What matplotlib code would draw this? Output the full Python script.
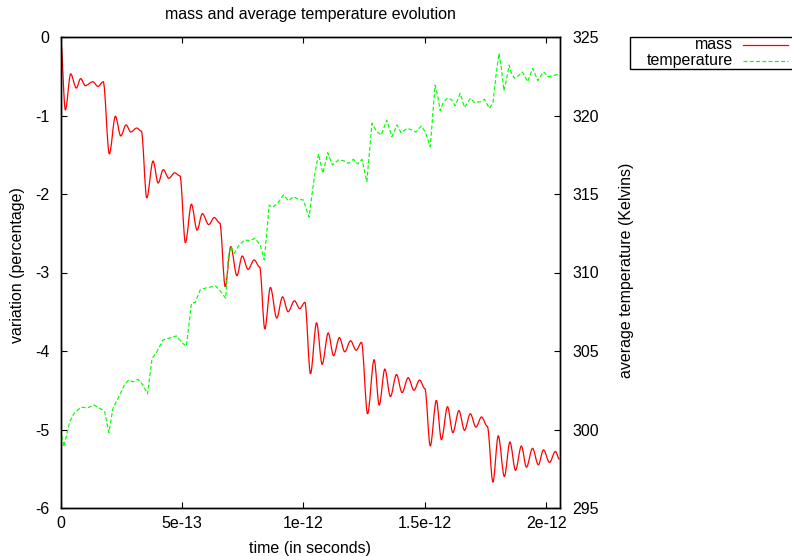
"""
mass and average temperature evolution, gnuplot-like look
"""
import numpy as np
import matplotlib
matplotlib.use('Agg')
import matplotlib.pyplot as plt
from matplotlib.path import Path
from matplotlib.patches import PathPatch, Rectangle
from matplotlib.lines import Line2D

## mass variation (percent), time in units of 1e-13 s
t_mass = [0, 0.20, 0.42, 0.65, 0.83, 1.02, 1.33, 1.54, 1.76, 2.01, 2.26, 2.48, 2.70, 2.89,
          3.14, 3.33, 3.55, 3.81, 4.02, 4.23, 4.46, 4.70, 4.92, 5.14, 5.39, 5.62, 5.84,
          6.10, 6.33, 6.56, 6.78, 7.01, 7.26, 7.48, 7.72, 7.97, 8.20, 8.41, 8.64, 8.90,
          9.14, 9.37, 9.63, 9.85, 10.06, 10.29, 10.54, 10.77, 11.02, 11.24, 11.48, 11.70,
          11.94, 12.17, 12.39, 12.64, 12.91, 13.12, 13.35, 13.58, 13.83, 14.06, 14.31,
          14.55, 14.78, 15.00, 15.22, 15.47, 15.68, 15.93, 16.15, 16.40, 16.63, 16.87,
          17.10, 17.33, 17.57, 17.80, 18.02, 18.27, 18.50, 18.73, 18.97, 19.18, 19.43,
          19.67, 19.88, 20.13, 20.37, 20.54]
mass = [0, -0.93, -0.47, -0.65, -0.53, -0.62, -0.57, -0.63, -0.57, -1.49, -1.01, -1.26,
        -1.12, -1.21, -1.16, -1.20, -2.05, -1.58, -1.86, -1.69, -1.80, -1.73, -1.77, -2.62,
        -2.13, -2.46, -2.25, -2.39, -2.30, -2.37, -3.18, -2.67, -3.04, -2.79, -2.96, -2.84,
        -2.93, -3.72, -3.19, -3.58, -3.31, -3.50, -3.36, -3.46, -3.38, -4.29, -3.64, -4.17,
        -3.77, -4.06, -3.83, -4.01, -3.87, -3.99, -3.89, -4.80, -4.11, -4.69, -4.23, -4.58,
        -4.30, -4.53, -4.34, -4.50, -4.37, -4.48, -5.21, -4.63, -5.13, -4.71, -5.04, -4.76,
        -5.01, -4.80, -4.97, -4.84, -4.96, -5.67, -5.08, -5.60, -5.16, -5.52, -5.21, -5.48,
        -5.24, -5.45, -5.26, -5.42, -5.28, -5.38]

## average temperature (K), time in units of 1e-13 s
t_temp = [0, 0.14, 0.38, 0.56, 0.83, 1.13, 1.38, 1.68, 1.82, 1.99, 2.16, 2.44, 2.64, 2.81,
          2.99, 3.19, 3.40, 3.58, 3.77, 3.95, 4.22, 4.43, 4.77, 5.00, 5.18, 5.39, 5.55,
          5.75, 6.02, 6.39, 6.57, 6.80, 6.91, 7.02, 7.16, 7.30, 7.57, 7.80, 8.01, 8.22,
          8.39, 8.59, 8.72, 8.94, 9.18, 9.38, 9.59, 9.79, 10.00, 10.23, 10.45, 10.62,
          10.80, 11.00, 11.19, 11.44, 11.65, 11.85, 12.06, 12.24, 12.41, 12.61, 12.82,
          13.02, 13.20, 13.43, 13.64, 13.85, 14.02, 14.26, 14.46, 14.63, 14.85, 15.01,
          15.22, 15.42, 15.53, 15.63, 15.74, 15.91, 16.08, 16.25, 16.45, 16.63, 16.87,
          17.04, 17.28, 17.45, 17.65, 17.80, 17.92, 18.05, 18.14, 18.25, 18.34, 18.47,
          18.56, 18.69, 18.88, 19.02, 19.23, 19.43, 19.65, 19.88, 20.07, 20.26, 20.44, 20.57]
temp = [300.0, 298.9, 300.5, 301.03, 301.41, 301.39, 301.56, 301.29, 301.13, 299.8, 301.35,
        302.2, 302.88, 303.15, 303.04, 303.2, 302.83, 302.26, 304.53, 304.9, 305.7, 305.8,
        305.96, 305.53, 305.3, 308.04, 308.1, 308.9, 309.03, 309.14, 308.84, 308.36, 311.0,
        311.64, 311.22, 311.64, 312.07, 312.03, 312.18, 311.75, 310.8, 314.3, 314.15, 314.41,
        314.94, 314.57, 314.83, 314.66, 314.62, 313.52, 316.1, 317.55, 316.32, 317.63,
        316.85, 317.17, 317.12, 316.95, 317.21, 316.91, 317.21, 315.78, 319.50, 318.97,
        318.76, 319.71, 318.65, 319.4, 318.90, 319.18, 319.08, 318.95, 319.33, 318.97,
        318.01, 321.94, 321.20, 320.31, 320.78, 321.09, 321.03, 320.62, 321.41, 320.52,
        321.09, 320.82, 320.88, 321.03, 320.46, 320.78, 322.47, 323.96, 323.11, 321.58,
        322.15, 323.22, 322.69, 322.37, 322.58, 322.77, 322.15, 323.0, 322.22, 322.79,
        322.47, 322.52, 322.62, 322.6]

xticks = [0, 5e-13, 1e-12, 1.5e-12, 2e-12]
xtick_labels = ['0', '5e-13', '1e-12', '1.5e-12', '2e-12']
yticks_left = [-6, -5, -4, -3, -2, -1, 0]
yticks_right = [295, 300, 305, 310, 315, 320, 325]

plt.rcParams['font.family'] = ['Liberation Sans', 'DejaVu Sans']
plt.rcParams['font.size'] = 11.5
plt.rcParams['axes.unicode_minus'] = False

W, H = 792, 556
fig = plt.figure(figsize=(W / 100, H / 100), dpi=100)
ax = fig.add_axes([60.5 / W, 1 - 508 / H, (559.5 - 60.5) / W, (508 - 37) / H])
ax2 = ax.twinx()

## smooth red curve: cubic segments with flat tangents at the read points
tm = np.array(t_mass) * 1e-13
mm = np.array(mass)
verts = [(tm[0], mm[0])]
codes = [Path.MOVETO]
for i in range(len(tm) - 1):
    dx = (tm[i + 1] - tm[i]) / 3
    verts += [(tm[i] + dx, mm[i]), (tm[i + 1] - dx, mm[i + 1]), (tm[i + 1], mm[i + 1])]
    codes += [Path.CURVE4] * 3
ax.add_patch(PathPatch(Path(verts, codes), fill=False, edgecolor='#ff0000', lw=0.9))

dash = (3.4, 1.9)
ax2.plot(np.array(t_temp) * 1e-13, temp, color='#00ff00', lw=0.85, dashes=dash)

ax.set_xlim(0, 2.054e-12)
ax.set_ylim(-6, 0)
ax2.set_ylim(295, 325)
ax.set_xticks(xticks)
ax.set_xticklabels(xtick_labels)
ax.set_yticks(yticks_left)
ax2.set_yticks(yticks_right)

ax.tick_params(axis='x', direction='in', length=4.5, top=True, pad=6)
ax.tick_params(axis='y', direction='in', length=4.5, right=False, pad=8)
ax2.tick_params(axis='y', direction='in', length=4.5, pad=9)
for a in (ax, ax2):
    for s in a.spines.values():
        s.set_linewidth(1.0)

fig.text(310 / W, 1 - 14 / H, 'mass and average temperature evolution', ha='center', va='center')
fig.text(310 / W, 1 - 548 / H, 'time (in seconds)', ha='center', va='center')
fig.text(18 / W, 1 - 265 / H, 'variation (percentage)', rotation=90, ha='center', va='center')
fig.text(627 / W, 1 - 270 / H, 'average temperature (Kelvins)', rotation=90, ha='center', va='center')

## gnuplot style key, runs off the right edge
fig.add_artist(Rectangle((630 / W, 1 - 69 / H), 200 / W, 32 / H, transform=fig.transFigure,
                         fill=False, edgecolor='black', lw=1.0))
fig.text(733 / W, 1 - 45 / H, 'mass', ha='right', va='center')
fig.text(733 / W, 1 - 61 / H, 'temperature', ha='right', va='center')
fig.add_artist(Line2D([743 / W, 788 / W], [1 - 45 / H, 1 - 45 / H], transform=fig.transFigure,
                      color='#ff0000', lw=0.9))
fig.add_artist(Line2D([743 / W, 788 / W], [1 - 61 / H, 1 - 61 / H], transform=fig.transFigure,
                      color='#00ff00', lw=0.85, dashes=dash))

fig.savefig('out.png', dpi=100)
